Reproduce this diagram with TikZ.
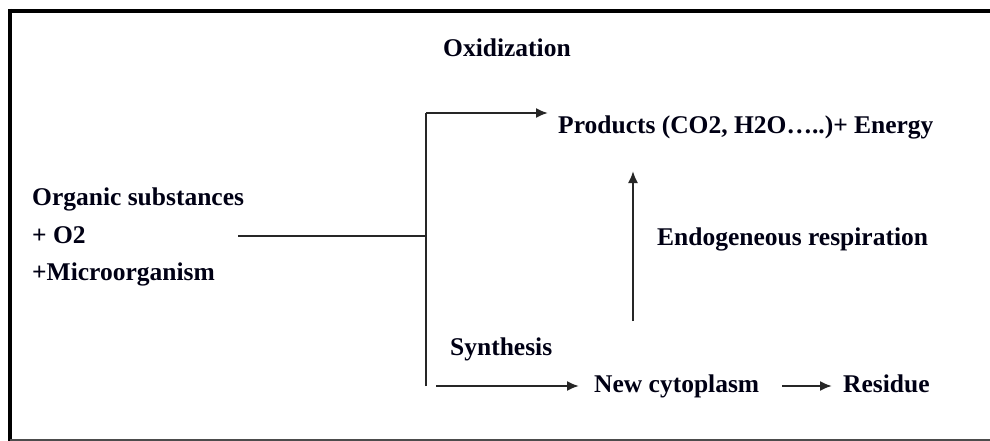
\documentclass[tikz,border=0pt]{standalone}
\usepackage{fontspec}
\setmainfont{Liberation Serif}
\usetikzlibrary{arrows.meta}
\begin{document}
\begin{tikzpicture}[x=1pt,y=-1pt,
  lbl/.style={anchor=base west,inner sep=0pt,font=\fontsize{25.5}{30}\selectfont\bfseries,text=black!92!blue},
  conn/.style={line width=2pt,draw=black!85},
  arr/.style={conn,-{Latex[length=12pt,width=10pt]}}]
\useasboundingbox (0,0) rectangle (990,441);
\fill[white] (0,0) rectangle (990,441);
% frame
\draw[line width=4pt] (10,11) -- (990,11);
\draw[line width=4pt] (10,9) -- (10,441);
\draw[line width=2pt,black!70] (10,440) -- (990,440);
% texts
\node[lbl] (ox) at (443,57) {Oxidization};
\node[lbl] (prod) at (558,133) {Products (CO2, H2O…..)+ Energy};
\node[lbl] (org) at (32,205) {Organic substances};
\node[lbl] (o2) at (32,243) {+ O2};
\node[lbl] (micro) at (32,280) {+Microorganism};
\node[lbl] (endo) at (657,245) {Endogeneous respiration};
\node[lbl] (syn) at (450,355) {Synthesis};
\node[lbl] (cyto) at (594,392) {New cytoplasm};
\node[lbl] (res) at (843,392) {Residue};
% connector points
\coordinate (src) at (238,236);
\coordinate (jn) at (426,236);
\coordinate (jtop) at (426,113);
\coordinate (jbot) at (426,386);
\coordinate (ptip) at (548,113);
\coordinate (sstart) at (436,386);
\coordinate (stip) at (579,386);
\coordinate (rstart) at (782,386);
\coordinate (rtip) at (832,386);
\coordinate (estart) at (633,321);
\coordinate (etip) at (633,171);
% connectors
\draw[conn] (src) -- (jn);
\draw[conn] (jbot) -- (jtop);
\draw[arr] (jtop) -- (ptip);
\draw[arr] (sstart) -- (stip);
\draw[arr] (rstart) -- (rtip);
\draw[arr] (estart) -- (etip);
\end{tikzpicture}
\end{document}
